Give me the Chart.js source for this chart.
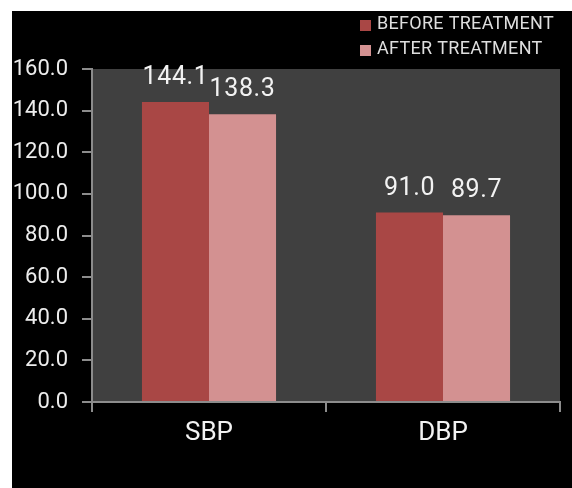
<!DOCTYPE html>
<html>
<head>
<script src="https://cdn.jsdelivr.net/npm/chart.js@4.4.0/dist/chart.umd.min.js"></script>
<style>
  body { margin: 0; background: #fff; }
  #wrap { position: absolute; left: 12px; top: 11px; width: 560px; height: 477px; background: #000; }
</style>
</head>
<body>
<div id="wrap"><canvas id="bpChart"></canvas></div>
<script>
  const categories = ['SBP', 'DBP'];
  const before = [144.1, 91.0];
  const after = [138.3, 89.7];
  const seriesNames = ['BEFORE TREATMENT', 'AFTER TREATMENT'];
  const seriesColors = ['#a94745', '#d39191'];

  // gray panel behind the bars
  const panelBg = {
    id: 'panelBg',
    beforeDraw(chart) {
      const { ctx, chartArea: a } = chart;
      ctx.save();
      ctx.fillStyle = '#404040';
      ctx.fillRect(a.left, a.top, a.right - a.left, a.bottom - a.top);
      ctx.restore();
    }
  };

  // value text above each bar
  const valueLabels = {
    id: 'valueLabels',
    afterDatasetsDraw(chart) {
      const ctx = chart.ctx;
      ctx.save();
      ctx.font = '25px Roboto';
      ctx.letterSpacing = '0.6px';
      ctx.fillStyle = '#f2f2f2';
      ctx.textAlign = 'center';
      ctx.textBaseline = 'alphabetic';
      chart.data.datasets.forEach((ds, i) => {
        chart.getDatasetMeta(i).data.forEach((bar, j) => {
          ctx.fillText(ds.data[j].toFixed(1), bar.x, bar.y - 18);
        });
      });
      ctx.restore();
    }
  };

  // stacked legend in the top right corner
  const stackedLegend = {
    id: 'stackedLegend',
    afterDraw(chart) {
      const ctx = chart.ctx;
      ctx.save();
      ctx.font = '18px Roboto';
      ctx.letterSpacing = '0.3px';
      ctx.textBaseline = 'middle';
      chart.data.datasets.forEach((ds, i) => {
        const y = 13 + i * 25;
        ctx.fillStyle = ds.backgroundColor;
        ctx.fillRect(348, y - 4, 11, 11);
        ctx.fillStyle = '#dedede';
        ctx.fillText(ds.label, 365, y);
      });
      ctx.restore();
    }
  };

  new Chart(document.getElementById('bpChart'), {
    type: 'bar',
    data: {
      labels: categories,
      datasets: [
        { label: seriesNames[0], data: before, backgroundColor: seriesColors[0] },
        { label: seriesNames[1], data: after, backgroundColor: seriesColors[1] }
      ]
    },
    options: {
      responsive: true,
      maintainAspectRatio: false,
      animation: false,
      layout: { padding: { top: 58, right: 12, left: 0, bottom: 0 } },
      datasets: { bar: { barPercentage: 1, categoryPercentage: 0.573 } },
      plugins: { legend: { display: false }, tooltip: { enabled: false } },
      scales: {
        y: {
          min: 0, max: 160,
          afterFit(s) { s.width = 80; },
          border: { color: '#8c8c8c', width: 2 },
          grid: { drawOnChartArea: false, color: '#8c8c8c', tickLength: 10, lineWidth: 2 },
          ticks: {
            stepSize: 20, padding: 14, color: '#ececec',
            font: { family: 'Roboto', size: 22 },
            callback: v => v.toFixed(1)
          }
        },
        x: {
          afterFit(s) { s.height = 86; },
          border: { color: '#8c8c8c', width: 2 },
          grid: { drawOnChartArea: false, color: '#8c8c8c', tickLength: 10, lineWidth: 2 },
          ticks: { padding: 6, color: '#f2f2f2', font: { family: 'Roboto', size: 26 } }
        }
      }
    },
    plugins: [panelBg, valueLabels, stackedLegend]
  });
</script>
</body>
</html>
